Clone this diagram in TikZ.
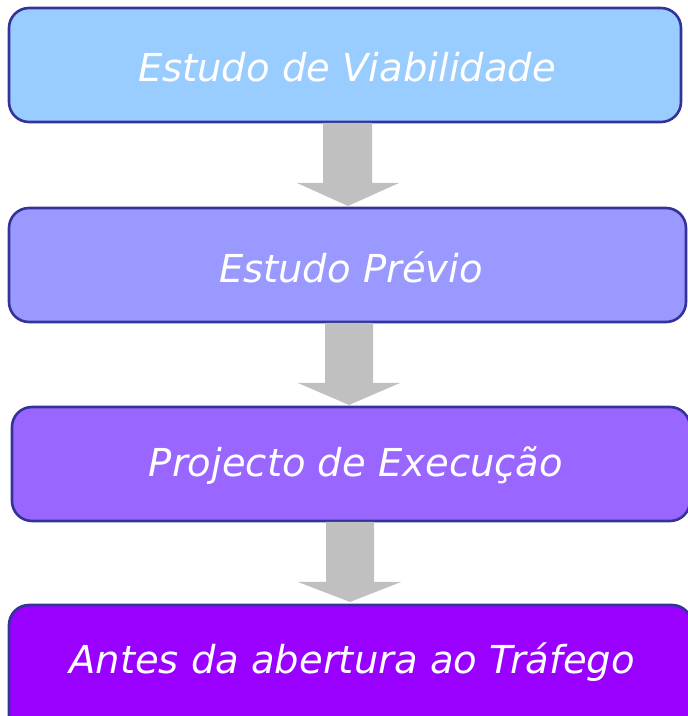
\documentclass[tikz,border=0pt]{standalone}
\usepackage{fontspec}
\setmainfont{DejaVu Sans}
\definecolor{bordc}{HTML}{333399}
\definecolor{c1}{HTML}{99CCFF}
\definecolor{c2}{HTML}{9999FF}
\definecolor{c3}{HTML}{9966FF}
\definecolor{c4}{HTML}{9900FF}
\definecolor{arrc}{HTML}{C0C0C0}
\tikzset{
  stage/.style={draw=bordc, line width=2.6pt, rounded corners=20pt},
  lbl/.style={text=white, font=\fontsize{38.5}{46}\selectfont\itshape, inner sep=0pt},
  flowarrow/.style={fill=arrc, draw=none}
}
\begin{document}
\begin{tikzpicture}[x=1pt,y=1pt]
\useasboundingbox (0,0) rectangle (688,716);
% boxes (y measured from top: y_tikz = 716 - y)
\draw[stage, fill=c1] (9,708) rectangle (681,594);
\draw[stage, fill=c2] (9,508) rectangle (686,394);
\draw[stage, fill=c3] (12,309) rectangle (690,195);
\draw[stage, fill=c4] (9,111) rectangle (692,-20);
\node[lbl] (t1) at (347,649) {Estudo de Viabilidade};
\node[lbl] (t2) at (351,449) {Estudo Prévio};
\node[lbl] (t3) at (356,250) {Projecto de Execução};
\node[lbl] (t4) at (352,54) {Antes da abertura ao Tráfego};
% arrows
\fill[flowarrow] (323,593) -- (372,593) -- (372,533) -- (399,533) -- (348,510) -- (297,533) -- (323,533) -- cycle;
\fill[flowarrow] (325,393) -- (373,393) -- (373,333) -- (400,333) -- (349,311) -- (298,333) -- (325,333) -- cycle;
\fill[flowarrow] (326,194) -- (374,194) -- (374,134) -- (401,134) -- (350,114) -- (298,134) -- (326,134) -- cycle;
\end{tikzpicture}
\end{document}
